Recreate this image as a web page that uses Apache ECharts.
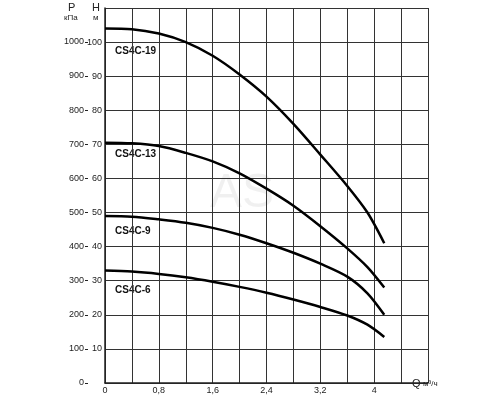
<!DOCTYPE html><html><head><meta charset="utf-8"><script src="https://cdn.jsdelivr.net/npm/echarts@6/dist/echarts.min.js"></script></head><body style="margin:0"><div id="c" style="width:500px;height:400px"></div><script>
var q = [0,0.4,0.8,1.2,1.6,2.0,2.4,2.8,3.2,3.6,3.9,4.15];
var h19 = [104,103.8,102.5,100,96,90.5,84,76,67,57.8,50,41];
var h13 = [70.5,70.3,69.5,67.5,65,61.5,57,52,46,39.5,34,28];
var h9  = [49,48.8,48,47,45.5,43.5,41,38.2,35,31.2,26.3,20];
var h6  = [33,32.7,32,31,29.7,28.2,26.5,24.5,22.3,19.8,17.1,13.5];
var names = ['CS4C-19','CS4C-13','CS4C-9','CS4C-6'];
var xLabels = ['0','0,8','1,6','2,4','3,2','4'];
function pts(h){return q.map(function(x,i){return [x,h[i]];});}
var c = echarts.init(document.getElementById('c'));
var f = 'Liberation Sans';
var ser = [h19,h13,h9,h6].map(function(h,i){return {name:names[i],type:'line',data:pts(h),smooth:0.3,showSymbol:false,lineStyle:{color:'#000',width:2.5},xAxisIndex:0,yAxisIndex:0};});
c.setOption({
 animation:false,
 grid:{left:105,right:72,top:8,bottom:17},
 xAxis:{type:'value',min:0,max:4.8,interval:0.4,
  axisLine:{lineStyle:{color:'#222',width:1.5}},axisTick:{show:false},
  splitLine:{lineStyle:{color:'#333',width:1}},
  axisLabel:{fontFamily:f,fontSize:9,color:'#222',margin:3,formatter:function(v){var k=Math.round(v*10);if(k%8)return '';return xLabels[k/8];}}},
 yAxis:[{type:'value',min:0,max:110,interval:10,
  axisLine:{show:true,lineStyle:{color:'#222',width:1.5}},axisTick:{show:false},
  splitLine:{lineStyle:{color:'#333',width:1}},
  axisLabel:{fontFamily:f,fontSize:9,color:'#222',margin:3,formatter:function(v){return (v===0||v===110)?'':String(v);}}},
  {type:'value',position:'left',offset:20,min:0,max:1099,interval:100,
  axisLine:{show:false},axisTick:{show:true,length:3,inside:true,lineStyle:{color:'#222'}},splitLine:{show:false},
  axisLabel:{fontFamily:f,fontSize:9,color:'#222',margin:1,showMaxLabel:false,formatter:function(v){return String(v);}}}],
 graphic:[
  {type:'text',left:68,top:2,style:{text:'P',font:'11px Liberation Sans',fill:'#222'}},
  {type:'text',left:64,top:14,style:{text:'кПа',font:'8px Liberation Sans',fill:'#222'}},
  {type:'text',left:92,top:2,style:{text:'Н',font:'11px Liberation Sans',fill:'#222'}},
  {type:'text',left:93,top:14,style:{text:'м',font:'8px Liberation Sans',fill:'#222'}},
  {type:'text',left:412,top:378,style:{text:'Q',font:'11px Liberation Sans',fill:'#222'}},
  {type:'text',left:423,top:380,style:{text:'м³/ч',font:'8px Liberation Sans',fill:'#222'}},
  {type:'text',left:115,top:46,style:{text:names[0],font:'bold 10px Liberation Sans',fill:'#111'}},
  {type:'text',left:115,top:149,style:{text:names[1],font:'bold 10px Liberation Sans',fill:'#111'}},
  {type:'text',left:115,top:226,style:{text:names[2],font:'bold 10px Liberation Sans',fill:'#111'}},
  {type:'text',left:115,top:285,style:{text:names[3],font:'bold 10px Liberation Sans',fill:'#111'}},
  {type:'text',left:210,top:170,style:{text:'AS',font:'48px Liberation Sans',fill:'rgba(0,0,0,0.06)'}}
 ],
 series:ser
});
</script></body></html>
